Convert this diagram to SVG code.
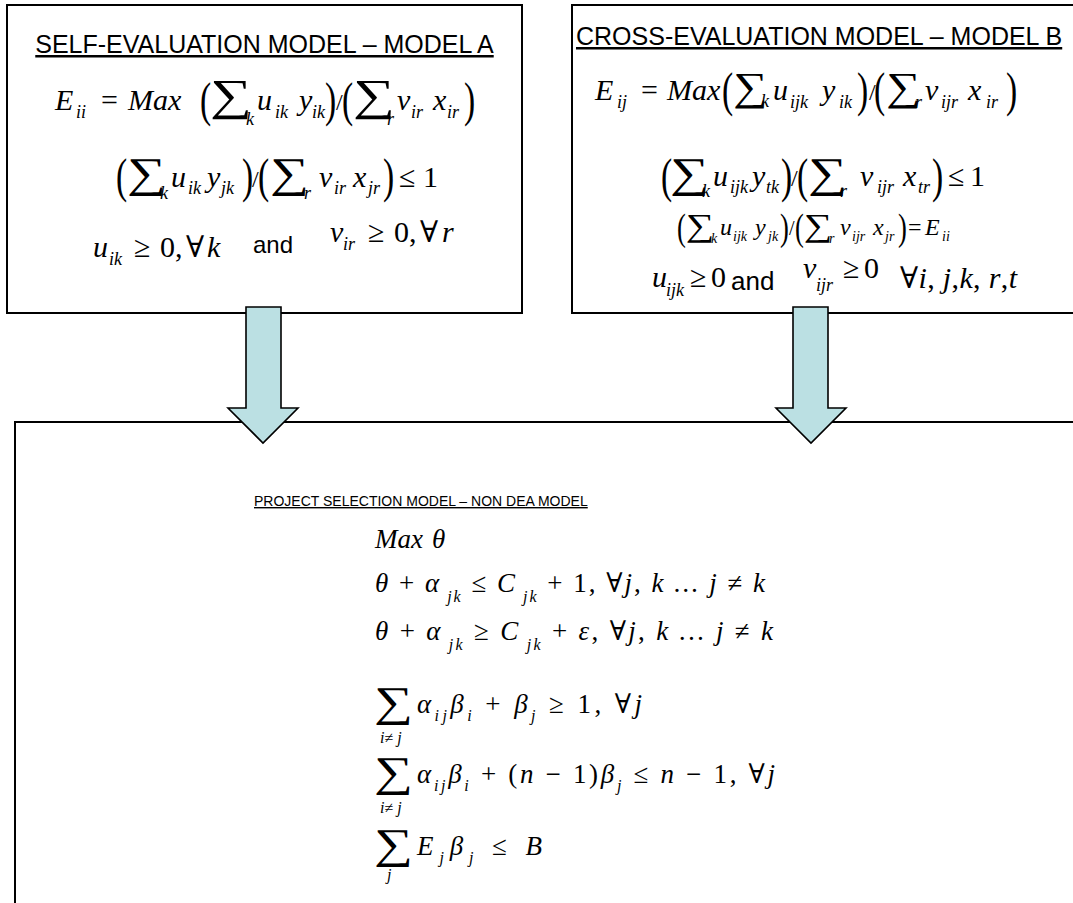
<svg xmlns="http://www.w3.org/2000/svg" width="1073" height="903" viewBox="0 0 1073 903">
<style>
.box{fill:#fff;stroke:#000;stroke-width:2}
.arr{fill:#bbe0e3;stroke:#000;stroke-width:1.6;stroke-linejoin:miter}
.t{font-family:"Liberation Sans",Arial,sans-serif;font-size:25px;text-decoration:underline;fill:#000}
.a{font-family:"Liberation Sans",Arial,sans-serif;font-size:24px;fill:#000}
.m{font-family:"Liberation Serif","Times New Roman","DejaVu Serif",serif;font-size:30px;font-style:italic;fill:#000}
.b{font-family:"Liberation Serif","Times New Roman","DejaVu Serif",serif;font-size:27px;font-style:italic;fill:#000}
.u{font-style:normal}
.s{font-size:18px}
.bs{font-size:16px}
.m3{font-size:24px}
.s3{font-size:14px}
.pr{font-family:"Liberation Serif","Times New Roman",serif;font-size:48px;fill:#000}
.pr3{font-family:"Liberation Serif","Times New Roman",serif;font-size:38px;fill:#000}
.sg{font-family:"Liberation Serif","Times New Roman",serif;font-size:42px;fill:#000}
.sg3{font-family:"Liberation Serif","Times New Roman",serif;font-size:32px;fill:#000}
</style>
<rect width="1073" height="903" fill="#fff"/>

<g id="model-b">
<rect class="box" x="572" y="5" width="520" height="308"/>
<text class="t" x="576" y="45">CROSS-EVALUATION MODEL – MODEL B</text>
<text class="pr" transform="translate(722,106) scale(0.7,1)">(</text>
<text class="pr" transform="translate(857,106) scale(0.7,1)">)</text>
<text class="pr" transform="translate(874,106) scale(0.7,1)">(</text>
<text class="pr" transform="translate(1006,106) scale(0.7,1)">)</text>
<text class="sg" transform="translate(733,100) scale(1.15,0.95)">∑</text>
<text class="sg" transform="translate(886,100) scale(1.15,0.95)">∑</text>
<text class="m">
<tspan x="595" y="100">E</tspan><tspan class="s" x="617" y="108">ij</tspan><tspan class="u" x="641" y="100">=</tspan><tspan x="667" y="100">Max</tspan><tspan class="s" x="761" y="107">k</tspan><tspan x="773" y="100">u</tspan><tspan class="s" x="790" y="108">ijk</tspan><tspan x="822" y="100">y</tspan><tspan class="s" x="839" y="108">ik</tspan><tspan class="u" x="869" y="100" style="font-size:24px">/</tspan><tspan class="s" x="915" y="108">r</tspan><tspan x="925" y="100">v</tspan><tspan class="s" x="941" y="108">ijr</tspan><tspan x="968" y="100">x</tspan><tspan class="s" x="986" y="108">ir</tspan>
</text>
<text class="pr" transform="translate(661,192) scale(0.7,1)">(</text>
<text class="pr" transform="translate(781,192) scale(0.7,1)">)</text>
<text class="pr" transform="translate(797,192) scale(0.7,1)">(</text>
<text class="pr" transform="translate(932,192) scale(0.7,1)">)</text>
<text class="sg" transform="translate(670,187) scale(1.3,1)">∑</text>
<text class="sg" transform="translate(808,187) scale(1.3,1)">∑</text>
<text class="m">
<tspan class="s" x="702" y="197">k</tspan><tspan x="713" y="186">u</tspan><tspan class="s" x="730" y="193">ijk</tspan><tspan x="752" y="186">y</tspan><tspan class="s" x="766" y="193">tk</tspan><tspan class="u" x="791" y="186" style="font-size:24px">/</tspan><tspan class="s" x="840" y="197">r</tspan><tspan x="860" y="186">v</tspan><tspan class="s" x="877" y="193">ijr</tspan><tspan x="903" y="186">x</tspan><tspan class="s" x="918" y="193">tr</tspan><tspan class="u" x="948" y="186">≤</tspan><tspan class="u" x="970" y="186">1</tspan>
</text>
<text class="pr3" transform="translate(677,240) scale(0.7,1)">(</text>
<text class="pr3" transform="translate(780,240) scale(0.7,1)">)</text>
<text class="pr3" transform="translate(795,240) scale(0.7,1)">(</text>
<text class="pr3" transform="translate(898,240) scale(0.7,1)">)</text>
<text class="sg3" transform="translate(686,236) scale(1.25,1)">∑</text>
<text class="sg3" transform="translate(804,236) scale(1.25,1)">∑</text>
<text class="m m3">
<tspan class="s3" x="711" y="243">k</tspan><tspan x="720" y="235">u</tspan><tspan class="s3" x="733" y="241">ijk</tspan><tspan x="755" y="235">y</tspan><tspan class="s3" x="768" y="241">jk</tspan><tspan class="u" x="789" y="235" style="font-size:20px">/</tspan><tspan class="s3" x="829" y="243">r</tspan><tspan x="840" y="235">v</tspan><tspan class="s3" x="852" y="241">ijr</tspan><tspan x="873" y="235">x</tspan><tspan class="s3" x="885" y="241">jr</tspan><tspan class="u" x="908" y="235">=</tspan><tspan x="925" y="235">E</tspan><tspan class="s3" x="942" y="241">ii</tspan>
</text>
<text class="m">
<tspan x="652" y="287">u</tspan><tspan class="s" x="666" y="296">ijk</tspan><tspan class="u" x="690" y="287">≥</tspan><tspan class="u" x="711" y="287">0</tspan>
<tspan x="803" y="278">v</tspan><tspan class="s" x="816" y="291">ijr</tspan><tspan class="u" x="843" y="278">≥</tspan><tspan class="u" x="864" y="278">0</tspan>
</text>
<text class="a" x="731" y="290" style="font-size:26px">and</text>
<text class="m" x="900" y="288" textLength="117" lengthAdjust="spacing"><tspan class="u">∀</tspan>i<tspan class="u">, </tspan>j<tspan class="u">,</tspan>k<tspan class="u">, </tspan>r<tspan class="u">,</tspan>t</text>
</g>

<g id="model-a">
<rect class="box" x="7" y="5" width="515" height="308"/>
<text class="t" x="264.5" y="53" text-anchor="middle">SELF-EVALUATION MODEL – MODEL A</text>
<text class="pr" transform="translate(200,116) scale(0.7,1)">(</text>
<text class="pr" transform="translate(325,116) scale(0.7,1)">)</text>
<text class="pr" transform="translate(342,116) scale(0.7,1)">(</text>
<text class="pr" transform="translate(464,116) scale(0.7,1)">)</text>
<text class="sg" transform="translate(210,110) scale(1.4,1.05)">∑</text>
<text class="sg" transform="translate(353,110) scale(1.4,1.05)">∑</text>
<text class="m">
<tspan x="55" y="110">E</tspan><tspan class="s" x="76" y="118">ii</tspan><tspan class="u" x="101" y="110">=</tspan><tspan x="128" y="110">Max</tspan><tspan class="s" x="246" y="125">k</tspan><tspan x="257" y="110">u</tspan><tspan class="s" x="275" y="118">ik</tspan><tspan x="299" y="110">y</tspan><tspan class="s" x="312" y="118">ik</tspan><tspan class="u" x="336" y="110" style="font-size:24px">/</tspan><tspan class="s" x="387" y="125">r</tspan><tspan x="397" y="110">v</tspan><tspan class="s" x="411" y="118">ir</tspan><tspan x="433" y="110">x</tspan><tspan class="s" x="447" y="118">ir</tspan>
</text>
<text class="pr" transform="translate(116,192) scale(0.7,1)">(</text>
<text class="pr" transform="translate(242,192) scale(0.7,1)">)</text>
<text class="pr" transform="translate(258,192) scale(0.7,1)">(</text>
<text class="pr" transform="translate(383,192) scale(0.7,1)">)</text>
<text class="sg" transform="translate(127,187) scale(1.3,1)">∑</text>
<text class="sg" transform="translate(270,187) scale(1.3,1)">∑</text>
<text class="m">
<tspan class="s" x="160" y="199">k</tspan><tspan x="171" y="187">u</tspan><tspan class="s" x="188" y="194">ik</tspan><tspan x="207" y="187">y</tspan><tspan class="s" x="221" y="194">jk</tspan><tspan class="u" x="252" y="187" style="font-size:24px">/</tspan><tspan class="s" x="304" y="199">r</tspan><tspan x="319" y="187">v</tspan><tspan class="s" x="334" y="194">ir</tspan><tspan x="353" y="187">x</tspan><tspan class="s" x="368" y="194">jr</tspan><tspan class="u" x="399" y="187">≤</tspan><tspan class="u" x="423" y="187">1</tspan>
</text>
<text class="m">
<tspan x="93" y="257">u</tspan><tspan class="s" x="109" y="265">ik</tspan><tspan class="u" x="134" y="257">≥</tspan><tspan class="u" x="160" y="257">0</tspan><tspan class="u" x="175" y="257">,</tspan><tspan class="u" x="186" y="257">∀</tspan><tspan x="207" y="257">k</tspan>
<tspan x="330" y="242">v</tspan><tspan class="s" x="343" y="250">ir</tspan><tspan class="u" x="368" y="242">≥</tspan><tspan class="u" x="394" y="242">0</tspan><tspan class="u" x="409" y="242">,</tspan><tspan class="u" x="420" y="242">∀</tspan><tspan x="442" y="242">r</tspan>
</text>
<text class="a" x="253" y="253">and</text>
</g>

<g id="project-selection">
<rect class="box" x="15" y="422" width="1080" height="500"/>
<text class="t" x="254" y="506" style="font-size:14px">PROJECT SELECTION MODEL – NON DEA MODEL</text>
<text class="b"><tspan x="375" y="548">Max</tspan><tspan x="432" y="548">θ</tspan></text>
<text class="b" x="375" y="592" textLength="390" lengthAdjust="spacing">θ<tspan class="u"> + </tspan>α<tspan class="bs" dx="6" dy="10">jk</tspan><tspan class="u" dy="-10"> ≤ </tspan>C<tspan class="bs" dx="6" dy="10">jk</tspan><tspan class="u" dy="-10"> + 1, ∀</tspan>j<tspan class="u">, </tspan>k ... j<tspan class="u"> ≠ </tspan>k</text>
<text class="b" x="375" y="640" textLength="398" lengthAdjust="spacing">θ<tspan class="u"> + </tspan>α<tspan class="bs" dx="6" dy="10">jk</tspan><tspan class="u" dy="-10"> ≥ </tspan>C<tspan class="bs" dx="6" dy="10">jk</tspan><tspan class="u" dy="-10"> + </tspan>ε<tspan class="u">, ∀</tspan>j<tspan class="u">, </tspan>k ... j<tspan class="u"> ≠ </tspan>k</text>
<text class="sg" transform="translate(374,716) scale(1.3,1)">∑</text>
<text class="b bs" x="380" y="743">i<tspan class="u">≠</tspan> j</text>
<text class="b" x="417" y="713" textLength="225" lengthAdjust="spacing">α<tspan class="bs" dy="8">ij</tspan><tspan dy="-8">β</tspan><tspan class="bs" dy="8">i</tspan><tspan class="u" dy="-8"> + </tspan>β<tspan class="bs" dy="8">j</tspan><tspan class="u" dy="-8"> ≥ 1, ∀</tspan>j</text>
<text class="sg" transform="translate(374,786) scale(1.3,1)">∑</text>
<text class="b bs" x="380" y="813">i<tspan class="u">≠</tspan> j</text>
<text class="b" x="417" y="783" textLength="358" lengthAdjust="spacing">α<tspan class="bs" dy="8">ij</tspan><tspan dy="-8">β</tspan><tspan class="bs" dy="8">i</tspan><tspan class="u" dy="-8"> + (</tspan>n<tspan class="u"> − 1)</tspan>β<tspan class="bs" dy="8">j</tspan><tspan class="u" dy="-8"> ≤ </tspan>n<tspan class="u"> − 1, ∀</tspan>j</text>
<text class="sg" transform="translate(374,858) scale(1.3,1)">∑</text>
<text class="b bs" x="387" y="880">j</text>
<text class="b" x="417" y="855" textLength="125" lengthAdjust="spacing">E<tspan class="bs" dy="8">j</tspan><tspan dy="-8">β</tspan><tspan class="bs" dy="8">j</tspan><tspan class="u" dy="-8"> ≤ </tspan>B</text>
</g>

<g id="connectors">
<polygon class="arr" points="246,307 281,307 281,408 298,408 263,443 228,408 246,408"/>
<polygon class="arr" points="793,307 828,307 828,408 846,408 811,443 776,408 793,408"/>
</g>
</svg>
